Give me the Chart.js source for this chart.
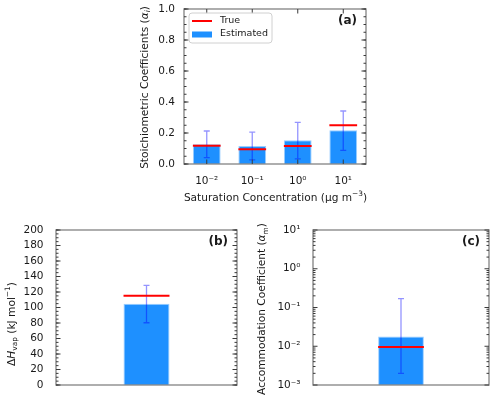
<!DOCTYPE html>
<html>
<head>
<meta charset="utf-8">
<script src="https://cdn.jsdelivr.net/npm/chart.js@4.4.1/dist/chart.umd.min.js"></script>
<style>
  body { margin: 0; background: #fff; }
  .panel { position: absolute; }
</style>
</head>
<body>
<div class="panel" style="left:0;top:0"><canvas id="chartA" width="500" height="215"></canvas></div>
<div class="panel" style="left:0;top:215px"><canvas id="chartB" width="250" height="183"></canvas></div>
<div class="panel" style="left:250px;top:215px"><canvas id="chartC" width="250" height="183"></canvas></div>
<script>
// --- datos del panel (a): coeficientes estequiométricos ---
const satConc = ['10⁻²', '10⁻¹', '10⁰', '10¹'];
const alphaEst = [0.128, 0.116, 0.153, 0.217];
const alphaTrue = [0.118, 0.095, 0.116, 0.25];
const alphaErrLo = [0.041, 0.026, 0.033, 0.088];
const alphaErrHi = [0.213, 0.206, 0.268, 0.342];

// --- panel (b): entalpía de vaporización ---
const hvapLabel = ['ΔHvap'];
const hvapEst = [104.7];
const hvapTrue = [115.3];
const hvapErrLo = [80.3];
const hvapErrHi = [128.6];

// --- panel (c): coeficiente de acomodación ---
const accomLabel = ['αm'];
const accomEst = [0.0178];
const accomTrue = [0.0096];
const accomErrLo = [0.002];
const accomErrHi = [0.17];

const logDecades = [1e-3, 1e-2, 1e-1, 1, 10];

Chart.defaults.font.family = "'DejaVu Sans', sans-serif";
Chart.defaults.color = '#1a1a1a';
Chart.defaults.animation = false;

const BLUE = '#1E90FF';
const TITLE_SIZE = 10.6;
const SUP = { '-': '⁻', '0': '⁰', '1': '¹', '2': '²', '3': '³' };
function pow10Label(v) {
    const e = Math.round(Math.log10(v));
    return '10' + String(e).split('').map(c => SUP[c]).join('');
}

// el eje Y no debe empujar el área del gráfico por el padding de las etiquetas
function fixYWidth(w) {
    return s => { s.width = w; s.paddingTop = 0; s.paddingBottom = 0; };
}

// texto con cursiva / subíndice / superíndice
function richText(ctx, parts, x, y, rot, size) {
    const fontOf = p => {
        let s = size, style = '';
        if (p[1].indexOf('i') === 0) style = 'italic ';
        if (p[1].indexOf('sub') >= 0 || p[1] === 'sup') s = size * 0.7;
        return style + s + "px 'DejaVu Sans'";
    };
    ctx.save();
    ctx.translate(x, y);
    ctx.rotate(rot);
    let total = 0;
    parts.forEach(p => { ctx.font = fontOf(p); total += ctx.measureText(p[0]).width; });
    let cx = -total / 2;
    ctx.textAlign = 'left';
    ctx.textBaseline = 'middle';
    ctx.fillStyle = '#1a1a1a';
    parts.forEach(p => {
        ctx.font = fontOf(p);
        let dy = 0;
        if (p[1].indexOf('sub') >= 0) dy = size * 0.28;
        if (p[1] === 'sup') dy = -size * 0.38;
        ctx.fillText(p[0], cx, dy);
        cx += ctx.measureText(p[0]).width;
    });
    ctx.restore();
}

// barras de error, líneas "True", marco, ticks hacia adentro, títulos
const panelDecor = {
    id: 'panelDecor',
    afterDatasetsDraw(chart, args, o) {
        const ctx = chart.ctx, ca = chart.chartArea;
        const meta = chart.getDatasetMeta(0);
        const ys = chart.scales.y;
        ctx.save();

        // error bars
        ctx.strokeStyle = 'rgba(0,0,255,0.42)';
        ctx.lineWidth = 1.3;
        meta.data.forEach((bar, i) => {
            const x = bar.x;
            const yHi = ys.getPixelForValue(o.errHi[i]);
            const yLo = ys.getPixelForValue(o.errLo[i]);
            ctx.beginPath();
            ctx.moveTo(x - 3, yHi); ctx.lineTo(x + 3, yHi);
            ctx.moveTo(x, yHi); ctx.lineTo(x, yLo);
            ctx.moveTo(x - 3, yLo); ctx.lineTo(x + 3, yLo);
            ctx.stroke();
        });

        // true values
        ctx.strokeStyle = '#ff0000';
        ctx.lineWidth = 2;
        meta.data.forEach((bar, i) => {
            const y = ys.getPixelForValue(o.truth[i]);
            ctx.beginPath();
            ctx.moveTo(bar.x - bar.width / 2, y);
            ctx.lineTo(bar.x + bar.width / 2, y);
            ctx.stroke();
        });

        // frame
        ctx.strokeStyle = '#8c8c8c';
        ctx.lineWidth = 1.4;
        ctx.strokeRect(ca.left, ca.top, ca.width, ca.height);

        // ticks
        ctx.strokeStyle = '#3a3a3a';
        ctx.lineWidth = 1;
        const tick = (x1, y1, x2, y2) => { ctx.beginPath(); ctx.moveTo(x1, y1); ctx.lineTo(x2, y2); ctx.stroke(); };
        const yTick = (v, len) => {
            const y = ys.getPixelForValue(v);
            tick(ca.left, y, ca.left + len, y);
            tick(ca.right, y, ca.right - len, y);
        };
        ys.ticks.forEach(t => yTick(t.value, 4.5));
        if (o.minorStep) {
            for (let v = ys.min; v <= ys.max + 1e-9; v += o.minorStep) yTick(v, 2.5);
        }
        if (o.logMinor) {
            logDecades.forEach(d => { for (let m = 2; m <= 9; m++) if (d * m < ys.max) yTick(d * m, 2.5); });
        }
        if (o.xTicks) {
            meta.data.forEach(bar => {
                tick(bar.x, ca.bottom, bar.x, ca.bottom - 4.5);
                tick(bar.x, ca.top, bar.x, ca.top + 4.5);
            });
        }

        // legend
        if (o.legend) {
            const L = o.legend;
            ctx.fillStyle = 'rgba(255,255,255,0.8)';
            ctx.strokeStyle = '#d0d0d0';
            ctx.lineWidth = 1;
            ctx.beginPath();
            ctx.roundRect(L.x, L.y, L.w, L.h, 3);
            ctx.fill(); ctx.stroke();
            ctx.strokeStyle = '#ff0000'; ctx.lineWidth = 2;
            tick(L.x + 3, L.y + 8, L.x + 23, L.y + 8);
            ctx.fillStyle = BLUE;
            ctx.fillRect(L.x + 3, L.y + 18.5, 20, 6);
            ctx.fillStyle = '#1a1a1a';
            ctx.font = "9.5px 'DejaVu Sans'";
            ctx.textBaseline = 'middle';
            ctx.textAlign = 'left';
            L.items.forEach((t, i) => ctx.fillText(t, L.x + 31, L.y + 8 + i * 13));
        }

        // panel tag
        ctx.font = "bold 12px 'DejaVu Sans'";
        ctx.fillStyle = '#1a1a1a';
        ctx.textAlign = 'right';
        ctx.textBaseline = 'middle';
        ctx.fillText(o.tag, ca.right - 9, ca.top + 12);

        // axis titles
        o.titles.forEach(t => richText(ctx, t.parts, t.x, t.y, t.rot, TITLE_SIZE));
        ctx.restore();
    }
};

function barDataset(values) {
    return {
        data: values,
        backgroundColor: BLUE,
        borderColor: 'rgba(30,144,255,0.45)',
        borderWidth: 1,
        categoryPercentage: 1
    };
}

// ---------- panel (a) ----------
new Chart(document.getElementById('chartA'), {
    type: 'bar',
    data: { labels: satConc, datasets: [Object.assign(barDataset(alphaEst), { barPercentage: 0.61 })] },
    options: {
        responsive: false,
        layout: { padding: { left: 138, right: 134, top: 9, bottom: 0 } },
        plugins: {
            legend: { display: false },
            tooltip: { enabled: false },
            panelDecor: {
                errLo: alphaErrLo, errHi: alphaErrHi, truth: alphaTrue,
                minorStep: 0.05, xTicks: true, tag: '(a)',
                legend: { x: 189, y: 13, w: 83, h: 30, items: ['True', 'Estimated'] },
                titles: [
                    { parts: [['Stoichiometric Coefficients (', ''], ['α', 'i'], ['i', 'isub'], [')', '']], x: 145, y: 87.5, rot: -Math.PI / 2 },
                    { parts: [['Saturation Concentration (μg m', ''], ['−3', 'sup'], [')', '']], x: 275.5, y: 198, rot: 0 }
                ]
            }
        },
        scales: {
            x: {
                offset: true,
                grid: { display: false, drawTicks: false },
                border: { display: false },
                ticks: { font: { size: 10.5 }, padding: 11, maxRotation: 0 },
                afterFit: s => { s.height = 51; }
            },
            y: {
                min: 0, max: 1,
                grid: { display: false, drawTicks: false },
                border: { display: false },
                ticks: { stepSize: 0.2, font: { size: 10.5 }, padding: 9, callback: v => v.toFixed(1) },
                afterFit: fixYWidth(46)
            }
        }
    },
    plugins: [panelDecor]
});

// ---------- panel (b) ----------
new Chart(document.getElementById('chartB'), {
    type: 'bar',
    data: { labels: hvapLabel, datasets: [Object.assign(barDataset(hvapEst), { barPercentage: 0.254 })] },
    options: {
        responsive: false,
        layout: { padding: { left: 0, right: 13, top: 15, bottom: 13 } },
        plugins: {
            legend: { display: false },
            tooltip: { enabled: false },
            panelDecor: {
                errLo: hvapErrLo, errHi: hvapErrHi, truth: hvapTrue,
                minorStep: 5, xTicks: false, tag: '(b)',
                titles: [
                    { parts: [['Δ', ''], ['H', 'i'], ['vap', 'sub'], [' (kJ mol', ''], ['−1', 'sup'], [')', '']], x: 12, y: 109, rot: -Math.PI / 2 }
                ]
            }
        },
        scales: {
            x: { display: false, offset: true },
            y: {
                min: 0, max: 200,
                grid: { display: false, drawTicks: false },
                border: { display: false },
                ticks: { stepSize: 20, font: { size: 10.5 }, padding: 12.5, autoSkip: false },
                afterFit: fixYWidth(56)
            }
        }
    },
    plugins: [panelDecor]
});

// ---------- panel (c) ----------
new Chart(document.getElementById('chartC'), {
    type: 'bar',
    data: { labels: accomLabel, datasets: [Object.assign(barDataset(accomEst), { barPercentage: 0.26 })] },
    options: {
        responsive: false,
        layout: { padding: { left: 0, right: 11, top: 15, bottom: 13 } },
        plugins: {
            legend: { display: false },
            tooltip: { enabled: false },
            panelDecor: {
                errLo: accomErrLo, errHi: accomErrHi, truth: accomTrue,
                logMinor: true, xTicks: false, tag: '(c)',
                titles: [
                    { parts: [['Accommodation Coefficient (', ''], ['α', 'i'], ['m', 'sub'], [')', '']], x: 12.7, y: 94, rot: -Math.PI / 2 }
                ]
            }
        },
        scales: {
            x: { display: false, offset: true },
            y: {
                type: 'logarithmic',
                min: 1e-3, max: 10,
                grid: { display: false, drawTicks: false },
                border: { display: false },
                afterBuildTicks: s => { s.ticks = logDecades.map(v => ({ value: v })); },
                ticks: { font: { size: 10.5 }, padding: 12.5, autoSkip: false, callback: v => pow10Label(v) },
                afterFit: fixYWidth(63)
            }
        }
    },
    plugins: [panelDecor]
});
</script>
</body>
</html>
